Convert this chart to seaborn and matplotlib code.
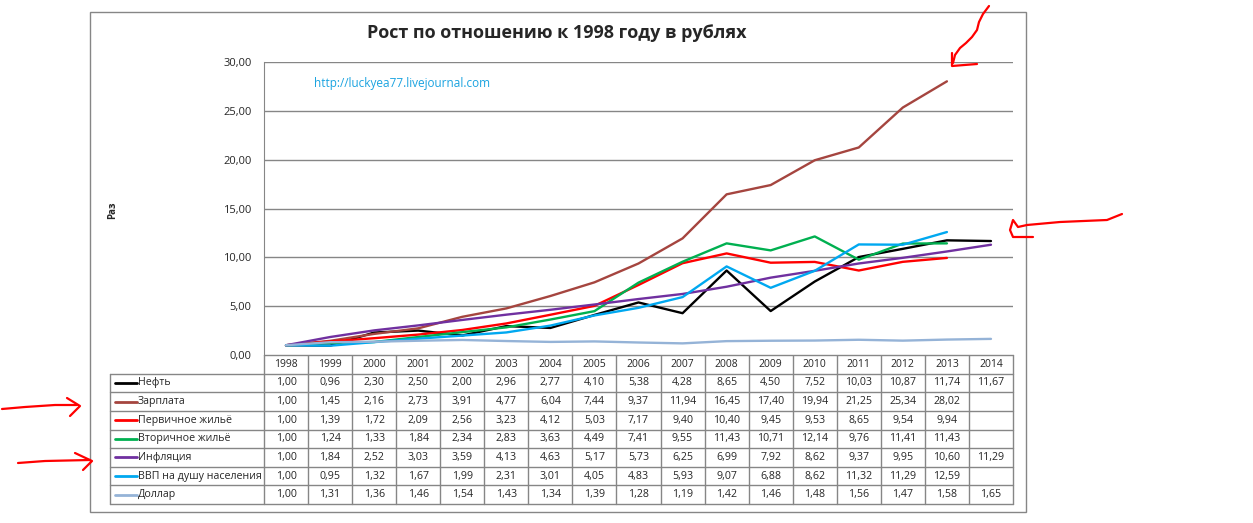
import numpy as np
import pandas as pd
import matplotlib.pyplot as plt
import seaborn as sns
from matplotlib.lines import Line2D
from matplotlib.patches import Rectangle

W, H = 1253, 523

years = [str(y) for y in range(1998, 2015)]
series_names = ["Нефть", "Зарплата", "Первичное жильё", "Вторичное жильё",
                "Инфляция", "ВВП на душу населения", "Доллар"]
colors = ["#000000", "#A5453F", "#FF0000", "#00B050", "#7030A0", "#00A8F0", "#95B3D7"]
nan = np.nan
oil = [1.00, 0.96, 2.30, 2.50, 2.00, 2.96, 2.77, 4.10, 5.38, 4.28, 8.65, 4.50, 7.52, 10.03, 10.87, 11.74, 11.67]
salary = [1.00, 1.45, 2.16, 2.73, 3.91, 4.77, 6.04, 7.44, 9.37, 11.94, 16.45, 17.40, 19.94, 21.25, 25.34, 28.02, nan]
primary = [1.00, 1.39, 1.72, 2.09, 2.56, 3.23, 4.12, 5.03, 7.17, 9.40, 10.40, 9.45, 9.53, 8.65, 9.54, 9.94, nan]
secondary = [1.00, 1.24, 1.33, 1.84, 2.34, 2.83, 3.63, 4.49, 7.41, 9.55, 11.43, 10.71, 12.14, 9.76, 11.41, 11.43, nan]
inflation = [1.00, 1.84, 2.52, 3.03, 3.59, 4.13, 4.63, 5.17, 5.73, 6.25, 6.99, 7.92, 8.62, 9.37, 9.95, 10.60, 11.29]
gdp = [1.00, 0.95, 1.32, 1.67, 1.99, 2.31, 3.01, 4.05, 4.83, 5.93, 9.07, 6.88, 8.62, 11.32, 11.29, 12.59, nan]
dollar = [1.00, 1.31, 1.36, 1.46, 1.54, 1.43, 1.34, 1.39, 1.28, 1.19, 1.42, 1.46, 1.48, 1.56, 1.47, 1.58, 1.65]
all_values = [oil, salary, primary, secondary, inflation, gdp, dollar]

rows = []
for name, vals in zip(series_names, all_values):
    for i, v in enumerate(vals):
        rows.append({"idx": i, "value": v, "series": name})
df = pd.DataFrame(rows)

sns.set_style("white")
plt.rcParams['font.family'] = ['Open Sans', 'DejaVu Sans']

def fx(px):
    return px / W

def fy(py):
    return 1 - py / H

fig = plt.figure(figsize=(W / 100, H / 100), dpi=100)
grey = "#868686"

# outer chart frame
fig.add_artist(Rectangle((fx(90), fy(512)), fx(1026) - fx(90), fy(12) - fy(512),
                         transform=fig.transFigure, fill=False, edgecolor=grey, linewidth=1))

ax = fig.add_axes([fx(264), fy(355), fx(1013) - fx(264), fy(62) - fy(355)])
sns.lineplot(data=df, x="idx", y="value", hue="series", hue_order=series_names,
             palette=dict(zip(series_names, colors)), linewidth=1.7, legend=False, ax=ax)
ax.set_xlim(-0.5, len(years) - 0.5)
ax.set_ylim(0, 30)
ax.set_yticks(np.arange(0, 31, 5))
ax.set_yticklabels([f"{v:.2f}".replace(".", ",") for v in np.arange(0, 31, 5)], fontsize=8)
ax.tick_params(axis="y", length=0, pad=9)
ax.set_xticks([])
ax.set_xlabel("")
ax.set_ylabel("")
ax.grid(axis="y", color=grey, linewidth=1)
for side in ["top", "right", "bottom"]:
    ax.spines[side].set_visible(False)
ax.spines["left"].set_color(grey)
ax.set_axisbelow(True)

fig.text(fx(557), fy(33), "Рост по отношению к 1998 году в рублях", ha="center", va="center",
         fontsize=13, fontweight="bold")
fig.text(fx(314), fy(84), "http://luckyea77.livejournal.com", ha="left", va="center",
         fontsize=8.5, color="#1AA3E0")
fig.text(fx(113), fy(210), "Раз", rotation=90, ha="center", va="center", fontsize=7, fontweight="bold")

# data table
tab = fig.add_axes([fx(110), fy(504), fx(1013) - fx(110), fy(355) - fy(504)])
tab.set_zorder(-1)
label_w = (264 - 110) / ((1013 - 264) / len(years))
x0 = -0.5 - label_w
x_end = len(years) - 0.5
nrows = len(series_names) + 1
tab.set_xlim(x0, x_end)
tab.set_ylim(nrows, 0)
tab.axis("off")
for i in range(len(years) + 1):
    tab.plot([i - 0.5, i - 0.5], [0, nrows], color=grey, linewidth=1, clip_on=False)
tab.plot([-0.5, x_end], [0, 0], color=grey, linewidth=1, clip_on=False)
for r in range(1, nrows + 1):
    tab.plot([x0, x_end], [r, r], color=grey, linewidth=1, clip_on=False)
tab.plot([x0, x0], [1, nrows], color=grey, linewidth=1, clip_on=False)
for i, y in enumerate(years):
    tab.text(i, 0.5, y, ha="center", va="center", fontsize=7.5)
unit = (1013 - 264) / len(years)
for r, (name, vals, c) in enumerate(zip(series_names, all_values, colors), start=1):
    tab.plot([x0 + 5 / unit, x0 + 27 / unit], [r + 0.5, r + 0.5], color=c, linewidth=2)
    tab.text(x0 + 28 / unit, r + 0.5, name, ha="left", va="center", fontsize=7.7)
    for i, v in enumerate(vals):
        if not np.isnan(v):
            tab.text(i, r + 0.5, f"{v:.2f}".replace(".", ","), ha="center", va="center", fontsize=7.7)

# hand-drawn red arrows
arrows = [
    [(989, 6), (983, 14), (979, 22), (977, 30), (972, 37), (966, 43), (960, 48), (955, 55), (953, 63)],
    [(952, 53), (952, 66), (977, 64)],
    [(1122, 214), (1107, 220), (1060, 222), (1027, 225), (1018, 227), (1013, 220), (1010, 230), (1013, 237), (1033, 237)],
    [(2, 409), (25, 407), (55, 405), (77, 405)],
    [(67, 398), (80, 406), (70, 416)],
    [(18, 463), (45, 461), (90, 460)],
    [(75, 453), (92, 461), (83, 470)],
]
for pts in arrows:
    fig.add_artist(Line2D([fx(p[0]) for p in pts], [fy(p[1]) for p in pts],
                          transform=fig.transFigure, color="red", linewidth=1.6))

fig.savefig("out.png", dpi=100)
